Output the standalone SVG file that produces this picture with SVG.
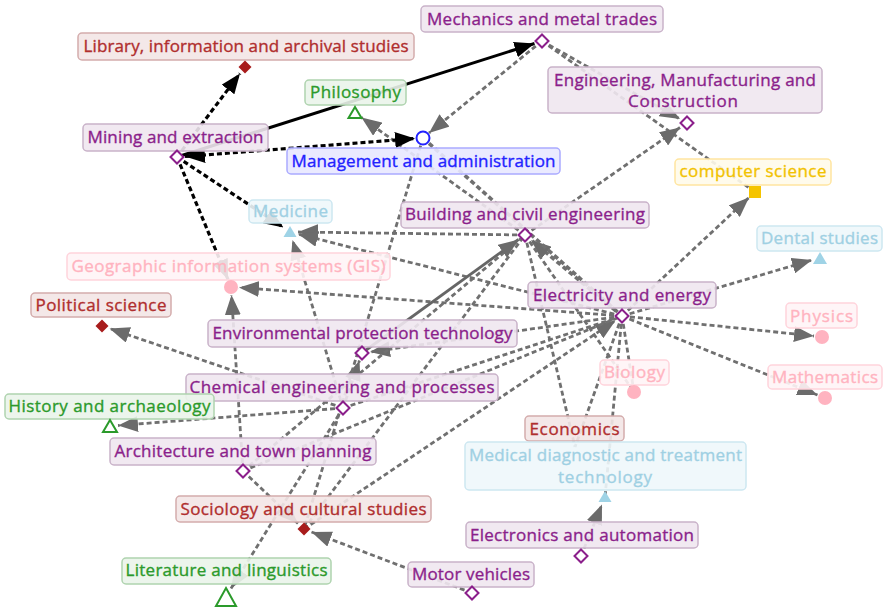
<svg xmlns="http://www.w3.org/2000/svg" xmlns:xlink="http://www.w3.org/1999/xlink" width="886" height="612" viewBox="0 0 886 612">
<style>
.e{fill:none;stroke:#707070;stroke-width:2.8;stroke-dasharray:5 3}
.eb{fill:none;stroke:#000;stroke-width:3.2;stroke-dasharray:5 3}
.sb{fill:none;stroke:#000;stroke-width:3}
.sg{fill:none;stroke:#666;stroke-width:2.8}
.ag{marker-end:url(#ag)}
.ab{marker-end:url(#ab)}
text{font-family:"Open Sans","DejaVu Sans",sans-serif;font-size:17px;text-anchor:middle;stroke-width:0.35px}
.bp{fill:#efe7ef;fill-opacity:.9;stroke:#c9b2c9;stroke-width:1.5}
.tp{fill:#8b1f8b;stroke:#8b1f8b}
.br{fill:#f3e6e6;fill-opacity:.9;stroke:#d4acac;stroke-width:1.5}
.tr{fill:#b02e2e;stroke:#b02e2e}
.bg{fill:#eaf4ea;fill-opacity:.9;stroke:#afd3af;stroke-width:1.5}
.tg{fill:#2b9a2b;stroke:#2b9a2b}
.bb{fill:#e8e8ff;fill-opacity:.9;stroke:#aaaaff;stroke-width:1.5}
.tb{fill:#2222ff;stroke:#2222ff}
.by{fill:#fffbea;fill-opacity:.9;stroke:#ffe5a0;stroke-width:1.5}
.ty{fill:#f2c200;stroke:#f2c200}
.bl{fill:#eef7fb;fill-opacity:.9;stroke:#cde7f1;stroke-width:1.5}
.tl{fill:#9fd0e3;stroke:#9fd0e3}
.bk{fill:#fff4f6;fill-opacity:.9;stroke:#ffd4dc;stroke-width:1.5}
.tk{fill:#ffb3c0;stroke:#ffb3c0}
.dp{fill:#fff;stroke:#8b1f8b;stroke-width:2}
.dr{fill:#a81c1c}
.trg{fill:#fff;stroke:#2b9a2b;stroke-width:2}
.trl{fill:#9fd3e6}
.ck{fill:#ffb3c0}
</style>
<defs>
<marker id="ag" viewBox="0 0 20 16" refX="20" refY="8" markerWidth="20" markerHeight="16" markerUnits="userSpaceOnUse" orient="auto-start-reverse"><path d="M0,0 L20,8 L0,16 z" fill="#6b6b6b"/></marker>
<marker id="ab" viewBox="0 0 20 16" refX="20" refY="8" markerWidth="20" markerHeight="16" markerUnits="userSpaceOnUse" orient="auto-start-reverse"><path d="M0,0 L20,8 L0,16 z" fill="#000"/></marker>
<polygon id="dia" points="0,-6.5 6.5,0 0,6.5 -6.5,0"/>
</defs>
<g id="connectors">
<line class="e" x1="542" y1="41" x2="755" y2="192"/>
<line class="e ag" x1="542" y1="41" x2="680" y2="119"/>
<line class="e ag" x1="542" y1="41" x2="429" y2="133"/>
<line class="e ag" x1="525" y1="235" x2="680" y2="127.5"/>
<line class="e ag" x1="622" y1="316" x2="749" y2="197.5"/>
<line class="e ag" x1="622" y1="316" x2="812" y2="260"/>
<line class="e ag" x1="622" y1="316" x2="814" y2="336"/>
<line class="e ag" x1="622" y1="316" x2="817.5" y2="395"/>
<line class="e ag" x1="622" y1="316" x2="239" y2="287.5"/>
<line class="e ag" x1="525" y1="235" x2="298" y2="232"/>
<line class="e ag" x1="622" y1="316" x2="298" y2="234"/>
<line class="e ag" x1="343" y1="408" x2="292.5" y2="240"/>
<line class="e ag" x1="243" y1="471" x2="231.5" y2="295"/>
<line class="e ag" x1="343" y1="408" x2="109.5" y2="328.5"/>
<line class="e ag" x1="343" y1="408" x2="118" y2="425.5"/>
<line class="e ag" x1="343" y1="408" x2="359.5" y2="360.5"/>
<line class="e ag" x1="622" y1="316" x2="370" y2="352"/>
<line class="e ag" x1="622" y1="316" x2="531" y2="240" style="stroke-width:3.6"/>
<line class="e" x1="423" y1="138" x2="622" y2="316" style="stroke-width:3.6"/>
<line class="e ag" x1="525" y1="235" x2="361.5" y2="117.5"/>
<line class="e" x1="423" y1="138" x2="304" y2="529"/>
<line class="e ag" x1="304" y1="529" x2="615.5" y2="320.5"/>
<line class="e" x1="304" y1="529" x2="525" y2="235"/>
<line class="e" x1="243" y1="471" x2="525" y2="235"/>
<line class="e ag" x1="243" y1="471" x2="298" y2="523.5"/>
<line class="e ag" x1="343" y1="408" x2="231" y2="588.5"/>
<line class="e ag" x1="472" y1="593" x2="311.5" y2="532"/>
<line class="e ag" x1="581" y1="556" x2="602" y2="504.5"/>
<line class="e" x1="525" y1="235" x2="575" y2="447"/>
<line class="e" x1="622" y1="316" x2="575" y2="447"/>
<line class="e" x1="622" y1="316" x2="605" y2="497"/>
<line class="e" x1="525" y1="235" x2="634" y2="392"/>
<line class="e" x1="622" y1="316" x2="634" y2="392"/>
<line class="e" x1="343" y1="408" x2="622" y2="316"/>
<line class="e" x1="243" y1="471" x2="622" y2="316"/>
<line class="sg ag" x1="362" y1="353" x2="518.5" y2="239.5"/>
<line class="eb ab" x1="177" y1="157" x2="240" y2="73.5"/>
<line class="sb ab" x1="177" y1="157" x2="534.5" y2="43.5"/>
<line class="eb ab" x1="185" y1="156.5" x2="415" y2="138.5" style="marker-start:url(#ab)"/>
<line class="eb ab" x1="177" y1="157" x2="283.5" y2="227.5"/>
<line class="eb ab" x1="177" y1="157" x2="228" y2="279.5"/>
</g>
<g id="n-library"><rect class="br" x="78" y="33" width="336" height="27" rx="4"/><text class="tr" x="246" y="52" textLength="325">Library, information and archival studies</text><use href="#dia" class="dr" x="245" y="67"/></g>
<g id="n-mechanics"><rect class="bp" x="421" y="6" width="242" height="26" rx="4"/><text class="tp" x="542" y="25" textLength="230">Mechanics and metal trades</text><use href="#dia" class="dp" x="542" y="41"/></g>
<g id="n-engineering"><rect class="bp" x="548" y="67" width="274" height="46" rx="4"/><text class="tp" x="685" y="86" textLength="262">Engineering, Manufacturing and</text><text class="tp" x="683" y="107" textLength="110">Construction</text><use href="#dia" class="dp" x="687" y="123"/></g>
<g id="n-philosophy"><rect class="bg" x="305" y="80" width="101" height="25" rx="4"/><text class="tg" x="355.5" y="98" textLength="91">Philosophy</text><polygon class="trg" points="355,107 361.5,118 348.5,118"/></g>
<g id="n-mining"><rect class="bp" x="83" y="124" width="185" height="27" rx="4"/><text class="tp" x="175.5" y="143" textLength="176">Mining and extraction</text><use href="#dia" class="dp" x="177" y="157"/></g>
<g id="n-management"><rect class="bb" x="287" y="148" width="273" height="26" rx="4"/><text class="tb" x="423.5" y="167" textLength="264">Management and administration</text><circle cx="423" cy="138" r="6.5" fill="#fff" stroke="#2222ff" stroke-width="2"/></g>
<g id="n-computer"><rect class="by" x="675" y="159" width="156" height="26" rx="4"/><text class="ty" x="753" y="177" textLength="147">computer science</text><rect x="749" y="186" width="12" height="12" fill="#f5c400"/></g>
<g id="n-medicine"><rect class="bl" x="249" y="200" width="83" height="23" rx="4"/><text class="tl" x="290.5" y="217" textLength="75">Medicine</text><polygon class="trl" points="290,226 296.5,237 283.5,237"/></g>
<g id="n-building"><rect class="bp" x="401" y="202" width="248" height="26" rx="4"/><text class="tp" x="525" y="220" textLength="240">Building and civil engineering</text><use href="#dia" class="dp" x="525" y="235"/></g>
<g id="n-dental"><rect class="bl" x="757" y="226" width="125" height="25" rx="4"/><text class="tl" x="819.5" y="244" textLength="117">Dental studies</text><polygon class="trl" points="820,252 827,264 813,264"/></g>
<g id="n-gis"><rect class="bk" x="67" y="253" width="323" height="27" rx="4"/><text class="tk" x="228.5" y="272" textLength="314">Geographic information systems (GIS)</text><circle class="ck" cx="231" cy="287" r="7"/></g>
<g id="n-electricity"><rect class="bp" x="528" y="282" width="188" height="26" rx="4"/><text class="tp" x="622" y="301" textLength="178">Electricity and energy</text><use href="#dia" class="dp" x="622" y="316"/></g>
<g id="n-political"><rect class="br" x="31" y="293" width="140" height="24" rx="4"/><text class="tr" x="101" y="311" textLength="131">Political science</text><use href="#dia" class="dr" x="102" y="326"/></g>
<g id="n-physics"><rect class="bk" x="786" y="303" width="71" height="25" rx="4"/><text class="tk" x="821.5" y="322" textLength="63">Physics</text><circle class="ck" cx="822" cy="337" r="7"/></g>
<g id="n-environmental"><rect class="bp" x="208" y="320" width="309" height="27" rx="4"/><text class="tp" x="362.5" y="339" textLength="300">Environmental protection technology</text><use href="#dia" class="dp" x="362" y="353"/></g>
<g id="n-biology"><rect class="bk" x="600" y="360" width="69" height="25" rx="4"/><text class="tk" x="634.5" y="378" textLength="61">Biology</text><circle class="ck" cx="634" cy="392" r="7"/></g>
<g id="n-mathematics"><rect class="bk" x="768" y="365" width="114" height="24" rx="4"/><text class="tk" x="825" y="383" textLength="106">Mathematics</text><circle class="ck" cx="825" cy="398" r="7"/></g>
<g id="n-chemical"><rect class="bp" x="186" y="374" width="312" height="27" rx="4"/><text class="tp" x="342" y="393" textLength="305">Chemical engineering and processes</text><use href="#dia" class="dp" x="343" y="408"/></g>
<g id="n-history"><rect class="bg" x="5" y="394" width="209" height="25" rx="4"/><text class="tg" x="109.5" y="412" textLength="202">History and archaeology</text><polygon class="trg" points="110,420 117,432 103,432"/></g>
<g id="n-economics"><rect class="br" x="525" y="416" width="99" height="25" rx="4"/><text class="tr" x="574.5" y="435" textLength="90">Economics</text></g>
<g id="n-architecture"><rect class="bp" x="110" y="438" width="266" height="27" rx="4"/><text class="tp" x="243" y="457" textLength="257">Architecture and town planning</text><use href="#dia" class="dp" x="243" y="471"/></g>
<g id="n-medical"><rect class="bl" x="465" y="442" width="281" height="48" rx="4"/><text class="tl" x="605.5" y="461" textLength="273">Medical diagnostic and treatment</text><text class="tl" x="605" y="483" textLength="94">technology</text><polygon class="trl" points="605,491 611.5,502 598.5,502"/></g>
<g id="n-sociology"><rect class="br" x="176" y="496" width="255" height="26" rx="4"/><text class="tr" x="303.5" y="515" textLength="246">Sociology and cultural studies</text><use href="#dia" class="dr" x="304" y="529"/></g>
<g id="n-electronics"><rect class="bp" x="466" y="522" width="232" height="26" rx="4"/><text class="tp" x="582" y="541" textLength="224">Electronics and automation</text><use href="#dia" class="dp" x="581" y="556"/></g>
<g id="n-literature"><rect class="bg" x="122" y="558" width="209" height="26" rx="4"/><text class="tg" x="226.5" y="576" textLength="202">Literature and linguistics</text><polygon class="trg" points="226,588 236,606 216,606"/></g>
<g id="n-motor"><rect class="bp" x="408" y="562" width="126" height="25" rx="4"/><text class="tp" x="471" y="580" textLength="118">Motor vehicles</text><use href="#dia" class="dp" x="472" y="593"/></g>
</svg>
